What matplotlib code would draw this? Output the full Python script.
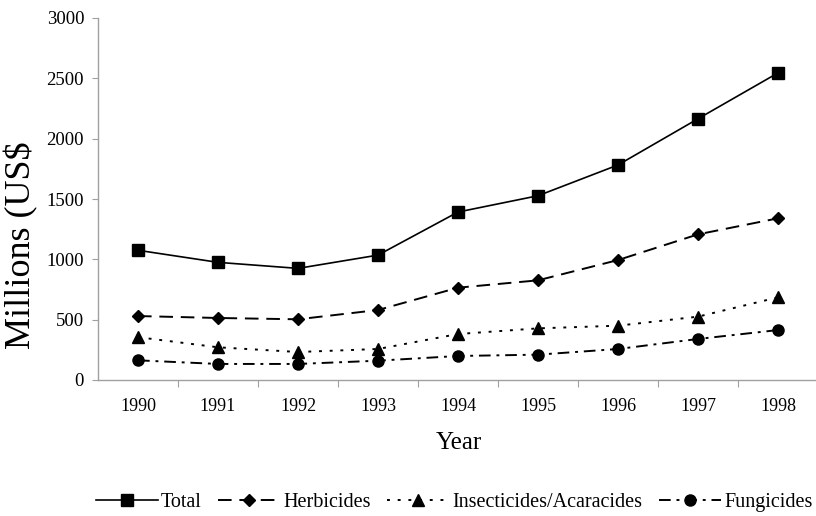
import matplotlib
matplotlib.use("Agg")
import matplotlib.pyplot as plt

years = ["1990", "1991", "1992", "1993", "1994", "1995", "1996", "1997", "1998"]
total = [1075, 975, 925, 1035, 1392, 1527, 1782, 2165, 2545]
herbicides = [530, 514, 503, 580, 765, 826, 994, 1207, 1340]
insecticides = [355, 271, 232, 257, 381, 428, 450, 525, 685]
fungicides = [163, 133, 133, 160, 199, 210, 257, 340, 414]

plt.rcParams['font.family'] = ['Liberation Serif', 'DejaVu Serif']

W, H = 816, 516
fig = plt.figure(figsize=(W / 100, H / 100), dpi=100)
ax = fig.add_axes([98 / W, (H - 380) / H, 720 / W, 362 / H])

x = list(range(len(years)))
ax.plot(x, total, color='black', lw=1.2, ls='-', marker='s', ms=8, label='Total')
ax.plot(x, herbicides, color='black', lw=1.4, ls=(0, (7, 4)), marker='D', ms=6.5, label='Herbicides')
ax.plot(x, insecticides, color='black', lw=1.4, ls=(0, (1.5, 4)), marker='^', ms=8, label='Insecticides/Acaracides')
ax.plot(x, fungicides, color='black', lw=1.4, ls=(0, (6, 3, 1.5, 3)), marker='o', ms=8, label='Fungicides')

ax.set_xlim(-0.5, 8.5)
ax.set_ylim(0, 3000)
ax.set_yticks(range(0, 3001, 500))
ax.set_xticks([i + 0.5 for i in range(8)], minor=False)
ax.set_xticklabels([])
ax.set_xticks(x, minor=True)
ax.set_xticklabels(years, minor=True)
ax.tick_params(axis='x', which='minor', length=0, pad=13, labelsize=13)
ax.tick_params(axis='x', which='major', length=5, color='#a0a0a0', direction='out')
ax.tick_params(axis='y', length=4, color='#a0a0a0', direction='out', labelsize=13.5, pad=6)

for s in ['top', 'right']:
    ax.spines[s].set_visible(False)
for s in ['left', 'bottom']:
    ax.spines[s].set_color('#a0a0a0')
    ax.spines[s].set_linewidth(1.0)

fig.text(459 / W, 1 - 443 / H, 'Year', fontsize=18, ha='center', va='center')
fig.text(21 / W, 1 - 245 / H, 'Millions (US\\$', rotation=90, fontsize=26,
         ha='center', va='center')

fig.legend(loc='center', bbox_to_anchor=(454 / W, 1 - 502 / H), ncol=4, frameon=False,
           fontsize=14.5, handlelength=3.1, columnspacing=0.8, handletextpad=0.15)

fig.savefig('out.png', dpi=100)
